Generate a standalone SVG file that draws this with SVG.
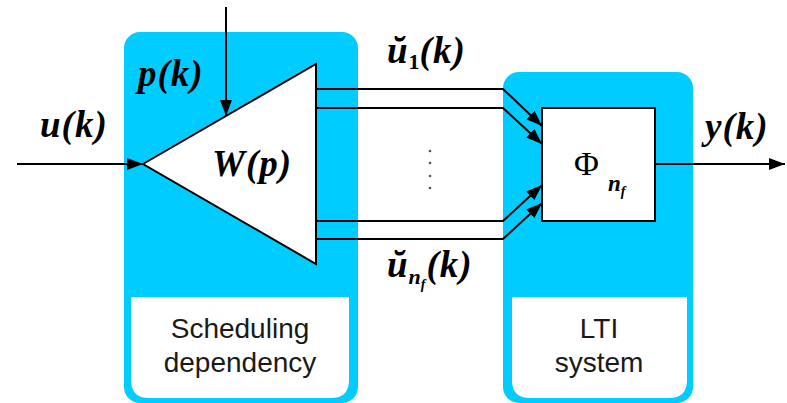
<svg xmlns="http://www.w3.org/2000/svg" width="787" height="403" viewBox="0 0 787 403">
<style>
.blue{fill:#00CCFF}
.white{fill:#ffffff}
.ln{stroke:#000;stroke-width:2;fill:none}
.m{font-family:"Liberation Serif","Times New Roman",serif;font-weight:bold;font-style:italic;font-size:37px;letter-spacing:1px;fill:#000}
.up{font-family:"Liberation Serif","Times New Roman",serif;font-size:34px;fill:#000}
.lab{font-family:"Liberation Sans",Arial,sans-serif;font-size:28px;fill:#1a1a1a;text-anchor:middle}
</style>
<defs>
<marker id="ah" viewBox="0 0 16 12" refX="16" refY="6" markerWidth="16" markerHeight="12" markerUnits="userSpaceOnUse" orient="auto">
<path d="M0,0 L16,6 L0,12 z" fill="#000"/>
</marker>
</defs>
<g id="scheduling">
<rect class="blue" x="124" y="32" width="234" height="371" rx="16"/>
<path class="white" d="M131,297 H349 V380 Q349,398 331,398 H149 Q131,398 131,380 Z"/>
<text class="lab" x="240" y="338">Scheduling</text>
<text class="lab" x="240" y="372">dependency</text>
<polygon points="143,164 316,64 316,264" fill="#fff" stroke="#000" stroke-width="2"/>
<text class="m" x="212" y="176">W(p)</text>
</g>
<g id="lti">
<rect class="blue" x="503" y="72" width="190" height="331" rx="16"/>
<path class="white" d="M512,297 H687 V380 Q687,398 669,398 H530 Q512,398 512,380 Z"/>
<text class="lab" x="599" y="338">LTI</text>
<text class="lab" x="599" y="372">system</text>
<rect x="542" y="108" width="113" height="113" fill="#fff" stroke="#000" stroke-width="2"/>
<text class="up" x="574" y="175">Φ</text>
<text class="m" x="608" y="191" style="font-size:23px;letter-spacing:0">n<tspan dy="5" style="font-size:14px">f</tspan></text>
</g>
<g id="connectors">
<line class="ln" x1="17" y1="164" x2="143" y2="164" marker-end="url(#ah)"/>
<line class="ln" x1="226" y1="7" x2="226" y2="116" marker-end="url(#ah)"/>
<polyline class="ln" points="316,89 503,89 542,126" marker-end="url(#ah)"/>
<polyline class="ln" points="316,108 503,108 542,144" marker-end="url(#ah)"/>
<polyline class="ln" points="316,221 503,221 542,185" marker-end="url(#ah)"/>
<polyline class="ln" points="316,239 503,239 542,203" marker-end="url(#ah)"/>
<line class="ln" x1="655" y1="164" x2="785" y2="164" marker-end="url(#ah)"/>
<g fill="#555">
<circle cx="430" cy="151" r="1.3"/>
<circle cx="430" cy="163" r="1.3"/>
<circle cx="430" cy="176" r="1.3"/>
<circle cx="430" cy="188" r="1.3"/>
</g>
</g>
<g id="labels">
<text class="m" x="40" y="137">u(k)</text>
<text class="m" x="138" y="86">p(k)</text>
<text class="m" x="705" y="139">y(k)</text>
<text class="m" x="387" y="63">ŭ<tspan dy="6" style="font-size:22px;font-style:normal;letter-spacing:0">1</tspan><tspan dy="-6">(k)</tspan></text>
<text class="m" x="387" y="277">ŭ<tspan dy="7" style="font-size:22px;letter-spacing:0">n</tspan><tspan dy="5" style="font-size:14px">f</tspan><tspan dy="-12">(k)</tspan></text>
</g>
</svg>
